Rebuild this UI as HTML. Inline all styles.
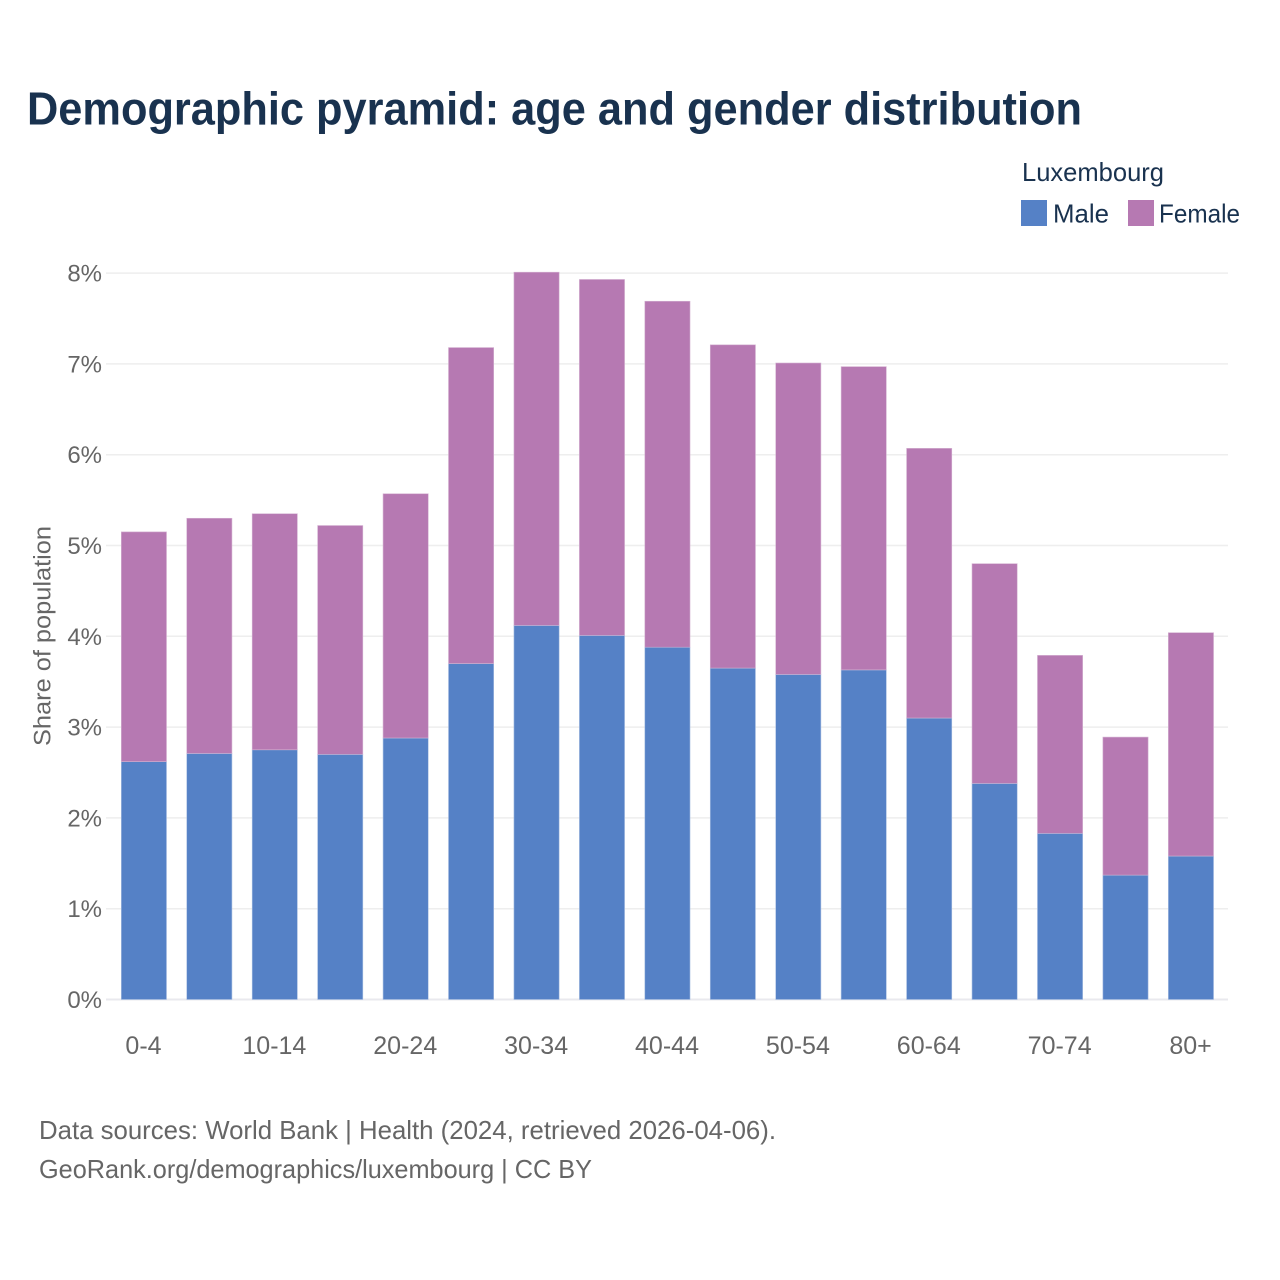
<!DOCTYPE html>
<html lang="en">
<head>
<meta charset="utf-8">
<title>Demographic pyramid: age and gender distribution</title>
<style>
html,body{margin:0;padding:0;background:#fff;width:1280px;height:1280px;overflow:hidden}
svg{display:block}
text{font-family:"Liberation Sans",sans-serif}
</style>
</head>
<body>
<svg id="chart" xmlns="http://www.w3.org/2000/svg" width="1280" height="1280" viewBox="0 0 1280 1280">
  <rect width="1280" height="1280" fill="#fff"/>
  <text x="27" y="124.5" font-size="46" font-weight="700" fill="#19324f" textLength="1055" lengthAdjust="spacingAndGlyphs">Demographic pyramid: age and gender distribution</text>
  <g id="grid"></g>
  <g id="y-ticks"></g>
  <g id="bars"></g>
  <g id="x-ticks"></g>
  <text transform="translate(50.5,636) rotate(-90)" text-anchor="middle" font-size="24" fill="#666" textLength="220" lengthAdjust="spacingAndGlyphs">Share of population</text>
  <g>
    <text x="1022" y="181" font-size="26" fill="#19324f" textLength="142" lengthAdjust="spacingAndGlyphs">Luxembourg</text>
    <rect x="1021" y="200" width="26" height="26" fill="#5581c6"/>
    <text x="1053" y="222.5" font-size="26" fill="#19324f" textLength="56" lengthAdjust="spacingAndGlyphs">Male</text>
    <rect x="1128" y="200" width="26" height="26" fill="#b679b2"/>
    <text x="1159" y="222.5" font-size="26" fill="#19324f" textLength="81" lengthAdjust="spacingAndGlyphs">Female</text>
  </g>
  <text x="39" y="1139" font-size="26" fill="#666" textLength="737" lengthAdjust="spacingAndGlyphs">Data sources: World Bank | Health (2024, retrieved 2026-04-06).</text>
  <text x="39" y="1178" font-size="26" fill="#666" textLength="553" lengthAdjust="spacingAndGlyphs">GeoRank.org/demographics/luxembourg | CC BY</text>
</svg>
<script>
const categories = ["0-4","5-9","10-14","15-19","20-24","25-29","30-34","35-39","40-44","45-49","50-54","55-59","60-64","65-69","70-74","75-79","80+"];
const maleValues = [2.62,2.71,2.75,2.70,2.88,3.70,4.12,4.01,3.88,3.65,3.58,3.63,3.10,2.38,1.83,1.37,1.58];
const femaleValues = [2.53,2.59,2.60,2.52,2.69,3.48,3.89,3.92,3.81,3.56,3.43,3.34,2.97,2.42,1.96,1.52,2.46];
const yTicks = [0,1,2,3,4,5,6,7,8];

const NS = "http://www.w3.org/2000/svg";
function yScale(v){ return 999.5 - v * 90.8; }
function xScale(i){ return 143.9 + i * 65.44; }
const BAR_W = 45.2;

function make(tag, attrs, parent){
  const el = document.createElementNS(NS, tag);
  for (const k in attrs) el.setAttribute(k, attrs[k]);
  parent.appendChild(el);
  return el;
}

const gridG = document.getElementById("grid");
const yG = document.getElementById("y-ticks");
yTicks.forEach(function(t){
  const line = make("line", {x1:106, x2:1228, y1:yScale(t), y2:yScale(t), stroke:t===0?"#e9e9ee":"#eeeeee", "stroke-width":t===0?2:1.5}, gridG);
  
  
  const label = make("text", {x:102, y:yScale(t)+8.5, "text-anchor":"end", "font-size":24, fill:"#666"}, yG);
  
  
  label.textContent = t + "%";
});

const barsG = document.getElementById("bars");
const xG = document.getElementById("x-ticks");
categories.forEach(function(c, i){
  const left = xScale(i) - BAR_W / 2;
  const m = maleValues[i];
  const f = femaleValues[i];
  const maleBar = make("rect", {x:left, y:yScale(m), width:BAR_W, height:yScale(0)-yScale(m), fill:"#5581c6", stroke:"#a9bfe2", "stroke-width":0.6}, barsG);
  
  
  const femaleBar = make("rect", {x:left, y:yScale(m+f), width:BAR_W, height:yScale(m)-yScale(m+f), fill:"#b679b2", stroke:"#d5b3d2", "stroke-width":0.6}, barsG);
  
  
  if (i % 2 === 0) {
    const lab = make("text", {x:xScale(i)-0.4, y:1054, "text-anchor":"middle", "font-size":25, fill:"#666"}, xG);
    
    
    lab.textContent = c;
  }
});
</script>
</body>
</html>
